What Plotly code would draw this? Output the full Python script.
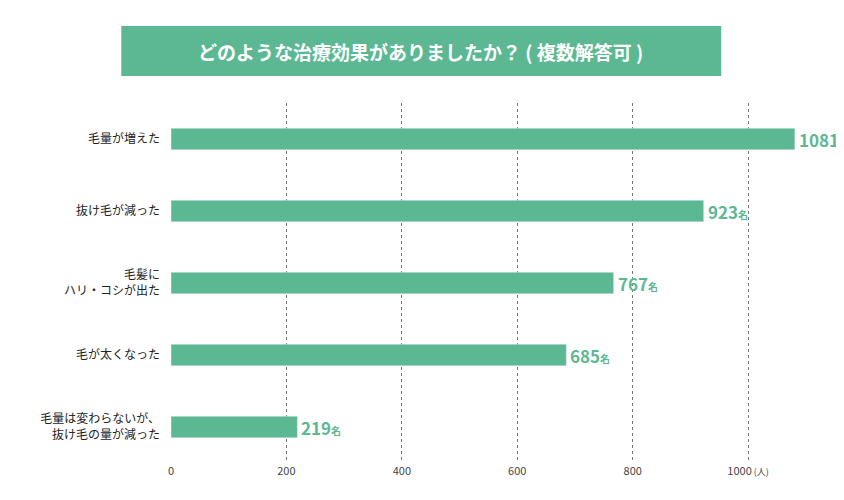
import plotly.graph_objects as go

categories = ["毛量が増えた", "抜け毛が減った", "毛髪に<br>ハリ・コシが出た", "毛が太くなった", "毛量は変わらないが、<br>抜け毛の量が減った"]
counts = [1081, 923, 767, 685, 219]
tick_vals = [0, 200, 400, 600, 800, 1000]
tick_text = ["0", "200", "400", "600", "800", "1000<span style='font-size:9px'> (人)</span>"]

GREEN = "#5cb893"
FONT = "Noto Sans CJK JP"

fig = go.Figure()
fig.add_trace(go.Bar(
    x=counts, y=categories, orientation="h",
    marker=dict(color=GREEN), width=0.3,
    hoverinfo="skip", cliponaxis=False,
))

for c, v in zip(categories, counts):
    fig.add_annotation(
        x=v, y=c, xanchor="left", showarrow=False, xshift=2,
        text=f"<b>{v}</b><span style='font-size:10px'><b>名</b></span>",
        font=dict(size=17, color=GREEN, family=FONT),
    )

# title box
fig.add_shape(
    type="rect", xref="paper", yref="paper",
    x0=-0.073, x1=0.808, y0=1.075, y1=1.214,
    fillcolor=GREEN, line=dict(width=0), layer="above",
)
fig.add_annotation(
    xref="paper", yref="paper", x=0.367, y=1.144, yanchor="middle",
    showarrow=False,
    text="<b>どのような治療効果がありましたか？ ( 複数解答可 )</b>",
    font=dict(size=19, color="white", family=FONT),
)

fig.update_layout(
    width=844, height=500,
    margin=dict(l=163, r=0, t=95, b=45),
    plot_bgcolor="white", paper_bgcolor="white",
    showlegend=False,
    font=dict(family=FONT, color="#333", size=12),
    xaxis=dict(
        range=[0, 1180], tickvals=tick_vals, ticktext=tick_text,
        showgrid=True, gridcolor="#777", griddash="dot", gridwidth=1,
        zeroline=False, tickfont=dict(size=11, color="#444"),
        fixedrange=True, automargin=False,
    ),
    yaxis=dict(
        autorange="reversed", showgrid=False, ticklabelstandoff=10,
        tickfont=dict(size=12, color="#222"), fixedrange=True, automargin=False,
    ),
)

fig.write_html("out.html")
